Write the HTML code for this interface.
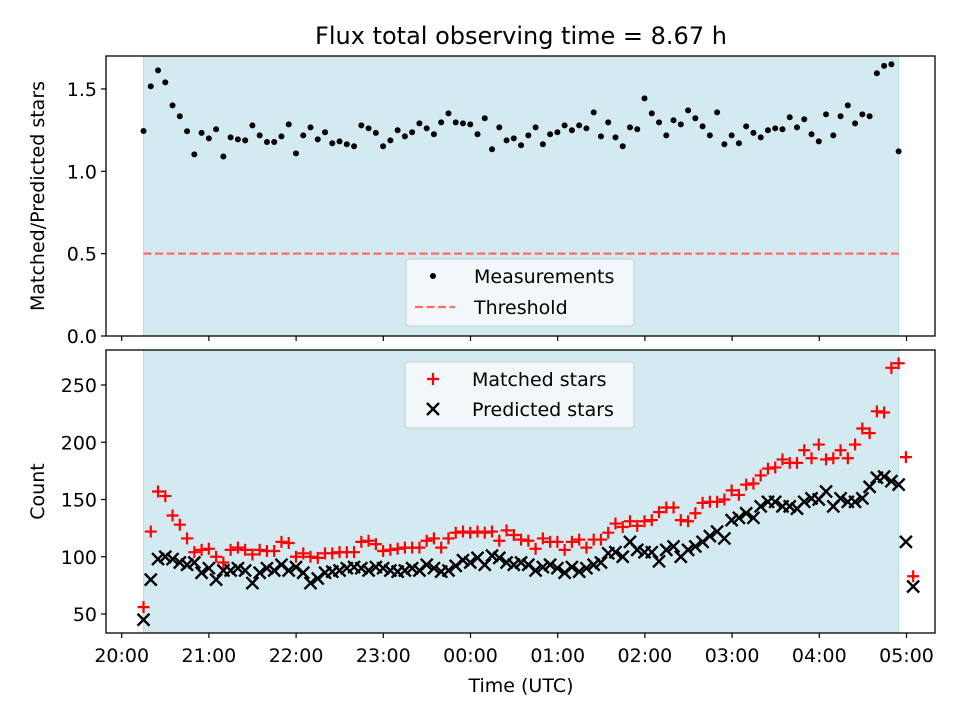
<!DOCTYPE html>
<html><head><meta charset="utf-8"><style>
html,body{margin:0;padding:0;background:#fff;}
svg{display:block;font-family:"DejaVu Sans","Liberation Sans",sans-serif;}
</style></head><body>
<svg id="fig" width="960" height="720" viewBox="0 0 960 720" xmlns="http://www.w3.org/2000/svg">
<rect width="960" height="720" fill="#fff"/>
<text x="521" y="44" font-size="24" text-anchor="middle" fill="#000">Flux total observing time = 8.67 h</text>
<g id="top"></g>
<g id="bot"></g>
</svg>
<script>
const ratio = [1.245,1.516,1.613,1.54,1.40,1.334,1.243,1.103,1.233,1.20,1.255,1.09,1.206,1.194,1.188,1.279,1.218,1.178,1.178,1.212,1.285,1.109,1.218,1.267,1.194,1.237,1.17,1.182,1.164,1.152,1.279,1.261,1.233,1.152,
1.188,1.249,1.212,1.237,1.291,1.261,1.225,1.297,1.352,1.297,1.291,1.285,1.225,1.322,1.134,1.267,1.188,1.20,1.158,1.218,1.267,1.164,1.225,1.237,1.279,1.249,1.279,1.261,1.358,1.212,1.297,1.206,1.152,1.267,1.255,1.443,
1.352,1.297,1.218,1.31,1.285,1.37,1.322,1.273,1.218,1.358,1.164,1.218,1.17,1.273,1.233,1.206,1.249,1.261,1.255,1.328,1.267,1.316,1.225,1.182,1.346,1.218,1.334,1.40,1.291,1.346,1.334,1.595,1.64,1.65,1.121];
const matched = [56,122,157,153,136,128,116,104,106,107,100,95,106,108,106,102,106,105,105,113,112,100,103,100,99,103,103,104,104,104,113,114,111,105,
106,107,108,108,108,114,116,108,116,121,122,121,122,121,122,114,123,119,115,114,107,116,113,113,106,113,115,108,115,115,121,129,126,131,127,131,
132,139,143,143,132,131,138,147,148,148,150,158,154,163,164,171,177,178,185,182,182,193,186,198,185,186,193,186,198,212,208,227,226,265,269,187,83];
const predicted = [45,80,98,100,98,95,93,95,86,90,80,88,88,90,88,77,86,90,88,93,88,91,86,77,81,86,87,88,90,91,90,88,91,90,
88,87,88,90,88,93,90,87,88,92,97,95,99,93,101,99,95,93,95,93,88,91,93,90,86,91,87,90,93,95,103,104,100,113,106,104,
104,96,106,109,100,106,109,113,118,122,116,132,134,138,134,144,148,148,144,144,142,148,151,150,157,144,151,148,148,151,161,169,170,166,163,113,74];
const xTickLabels = ["20:00","21:00","22:00","23:00","00:00","01:00","02:00","03:00","04:00","05:00"];
const topYTicks = [0.0,0.5,1.0,1.5];
const botYTicks = [50,100,150,200,250];
const threshold = [0.5];
const tStart = [0.25], tEnd = [8.91]; // hours after 20:00

const NS="http://www.w3.org/2000/svg";
const L=106,R=935;
const X=h=>121.7+h*87.2;
const yTop=v=>336-v*164.7;
const yBot=v=>614-(v-50)*1.145;
function mk(tag,attrs,parent){const e=document.createElementNS(NS,tag);for(const k in attrs)e.setAttribute(k,attrs[k]);parent.appendChild(e);return e;}
const tOf=i=>tStart[0]+(tEnd[0]-tStart[0])*i/(ratio.length-1);

function panel(g,top,bottom,yf,ticks,fmt,label,showX){
  const span=mk('rect',{x:X(tStart[0]),y:top,width:X(tEnd[0])-X(tStart[0]),height:bottom-top,fill:'#d4eaf1',stroke:'#b7dbe8','stroke-width':1},g);
  
  
  ticks.forEach(v=>{
    const y=yf(v);
    const t=mk('line',{x1:L-5,x2:L,y1:y,y2:y,stroke:'#000','stroke-width':1.2},g);
    
    
    const tx=mk('text',{x:L-9,y:y+7,'font-size':19,'text-anchor':'end'},g);
    tx.textContent=fmt(v);
    
    
  });
  xTickLabels.forEach((s,i)=>{
    const x=X(i);
    const t=mk('line',{x1:x,x2:x,y1:bottom,y2:bottom+5,stroke:'#000','stroke-width':1.2},g);
    
    
    if(showX){
      const tx=mk('text',{x:x,y:bottom+29,'font-size':19,'text-anchor':'middle'},g);
      tx.textContent=s;
      
      
    }
  });
  const yl=mk('text',{transform:`translate(44,${(top+bottom)/2}) rotate(-90)`,'font-size':19,'text-anchor':'middle'},g);
  yl.textContent=label;
  
  
}
function frame(g,top,bottom){
  const f=mk('rect',{x:L,y:top,width:R-L,height:bottom-top,fill:'none',stroke:'#000','stroke-width':1.3},g);
  
  
}

// top panel
const gt=document.getElementById('top');
panel(gt,56,336,yTop,topYTicks,v=>v.toFixed(1),'Matched/Predicted stars',false);
const th=mk('line',{x1:X(tStart[0]),x2:X(tEnd[0]),y1:yTop(threshold[0]),y2:yTop(threshold[0]),stroke:'#ff6b6b','stroke-width':2.2,'stroke-dasharray':'8,3.5'},gt);


ratio.forEach((v,i)=>{
  const c=mk('circle',{cx:X(tOf(i)),cy:yTop(v),r:3,fill:'#000'},gt);
  
  
});
frame(gt,56,336);
// top legend
const lg1=mk('g',{},gt);


mk('rect',{x:406,y:259,width:228,height:67,rx:3,fill:'#f7fafc','fill-opacity':0.85,stroke:'#ccc'},lg1);
mk('circle',{cx:433,cy:276,r:3,fill:'#000'},lg1);
let t1=mk('text',{x:474,y:283,'font-size':19},lg1);t1.textContent='Measurements';


mk('line',{x1:415,x2:455,y1:307,y2:307,stroke:'#ff6b6b','stroke-width':2.2,'stroke-dasharray':'8,3.5'},lg1);
let t2=mk('text',{x:474,y:314,'font-size':19},lg1);t2.textContent='Threshold';



// bottom panel
const gb=document.getElementById('bot');
panel(gb,350,633,yBot,botYTicks,v=>String(v),'Count',true);
function plus(g,x,y){const p=mk('path',{d:`M${x-6},${y}H${x+6}M${x},${y-6}V${y+6}`,stroke:'#f00','stroke-width':2.2,fill:'none'},g);return p;}
function cross(g,x,y){const p=mk('path',{d:`M${x-6},${y-6}L${x+6},${y+6}M${x-6},${y+6}L${x+6},${y-6}`,stroke:'#000','stroke-width':2.4,fill:'none'},g);return p;}
predicted.forEach((v,i)=>{
  const p=cross(gb,X(tOf(i)),yBot(v));
  
  
});
matched.forEach((v,i)=>{
  const p=plus(gb,X(tOf(i)),yBot(v));
  
  
});
frame(gb,350,633);
const xl=mk('text',{x:521,y:692,'font-size':19,'text-anchor':'middle'},gb);
xl.textContent='Time (UTC)';


const lg2=mk('g',{},gb);


mk('rect',{x:405,y:362,width:229,height:66,rx:3,fill:'#f7fafc','fill-opacity':0.85,stroke:'#ccc'},lg2);
plus(lg2,433,379);
let t3=mk('text',{x:472,y:386,'font-size':19},lg2);t3.textContent='Matched stars';


cross(lg2,433,409);
let t4=mk('text',{x:472,y:416,'font-size':19},lg2);t4.textContent='Predicted stars';


</script>
</body></html>
